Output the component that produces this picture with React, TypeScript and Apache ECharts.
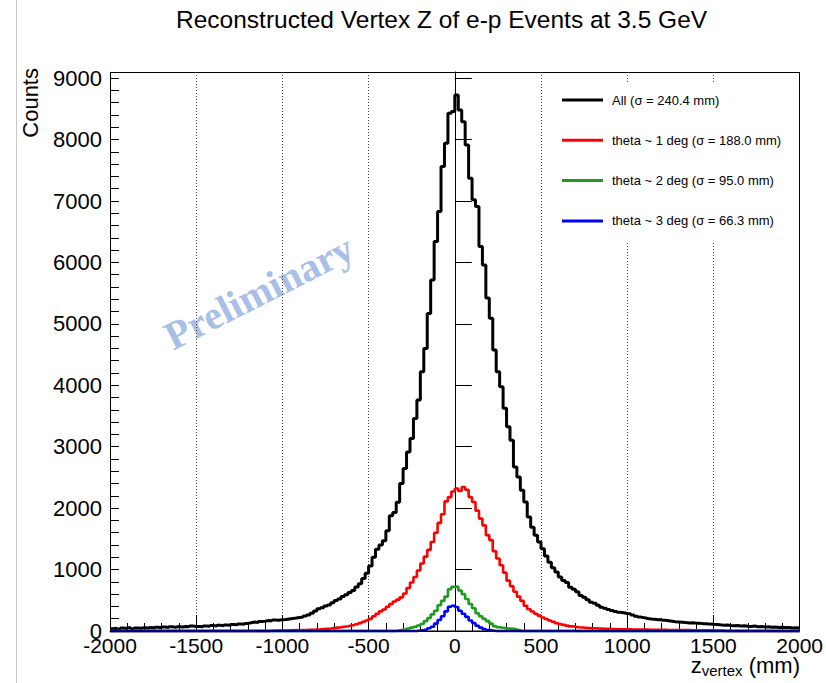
import React, { useEffect, useRef } from "react";
import * as echarts from "echarts";

// Histogram binning (mm)
const binWidth = 20;
const xMin = -2000;
const xMax = 2000;

// All events, 200 bins from -2000 to 2000 mm
const allCounts = [
  38, 45, 32, 48, 40, 52, 36, 50, 44, 55,
  48, 58, 50, 62, 54, 66, 58, 70, 62, 72,
  66, 74, 68, 80, 72, 75, 70, 82, 76, 88,
  80, 92, 86, 98, 94, 106, 100, 114, 110, 124,
  135, 146, 140, 155, 160, 170, 166, 180, 176, 185,
  188, 196, 204, 210, 220, 228, 245, 262, 290, 325,
  362, 380, 405, 425, 460, 497, 520, 560, 590, 625,
  660, 715, 770, 855, 942, 1060, 1200, 1330, 1400, 1470,
  1630, 1875, 1930, 2095, 2400, 2645, 2915, 3135, 3460, 3760,
  4220, 4600, 5170, 5715, 6340, 6830, 7560, 7940, 8430, 8455,
  8726, 8480, 8290, 7910, 7370, 7020, 6910, 6260, 5960, 5420,
  5090, 4575, 4220, 3975, 3625, 3325, 3105, 2670, 2505, 2290,
  2100, 1855, 1690, 1560, 1450, 1340, 1220, 1120, 1030, 960,
  880, 823, 790, 714, 680, 640, 578, 550, 510, 469,
  450, 420, 388, 372, 350, 334, 318, 305, 296, 285,
  280, 262, 240, 226, 215, 205, 196, 192, 182, 188,
  175, 168, 160, 152, 148, 143, 138, 132, 136, 128,
  127, 120, 118, 112, 108, 106, 100, 95, 98, 90,
  85, 88, 80, 84, 76, 73, 80, 70, 74, 66,
  68, 62, 65, 58, 62, 55, 58, 50, 54, 48,
];

// theta ~ 1 deg: non-empty bins start at -1080 mm (other bins are empty)
const theta1Start = -1080;
const theta1Counts = [
  5, 8, 6, 10, 8, 12, 10, 14, 12, 16,
  15, 18, 20, 24, 26, 30, 35, 40, 48, 55,
  62, 70, 78, 88, 98, 110, 128, 150, 172, 198,
  240, 280, 320, 350, 395, 440, 480, 510, 548, 610,
  700, 790, 880, 985, 1100, 1210, 1320, 1450, 1600, 1760,
  1900, 2110, 2180, 2270, 2320, 2280, 2345, 2300, 2180, 2100,
  1960, 1830, 1720, 1560, 1480, 1300, 1180, 1070, 950, 820,
  730, 640, 560, 490, 410, 355, 318, 280, 250, 220,
  195, 170, 150, 128, 112, 100, 88, 76, 68, 62,
  58, 54, 50, 46, 44, 41, 38, 36, 34, 32,
  30, 29, 28, 27, 26, 25, 24, 24, 23, 22,
  21, 20, 20, 19, 18, 17, 17, 16, 15, 15,
  14, 14, 13, 12, 12, 11, 10, 10, 9, 8, 7, 6,
];

// theta ~ 2 deg: non-empty bins start at -340 mm
const theta2Start = -340;
const theta2Counts = [
  10, 18, 28, 40, 55, 70, 90, 115, 160, 210,
  270, 330, 420, 490, 560, 680, 720, 725, 660, 600,
  520, 440, 370, 290, 240, 200, 160, 120, 80, 60,
  52, 45, 40, 35, 28, 15,
];

// theta ~ 3 deg: non-empty bins start at -220 mm
const theta3Start = -220;
const theta3Counts = [
  8, 15, 25, 45, 70, 120, 180, 240, 320, 395,
  410, 390, 330, 280, 230, 170, 130, 85, 55, 30,
  15, 8,
];

const seriesNames = [
  "All (σ = 240.4 mm)",
  "theta ~ 1 deg (σ = 188.0 mm)",
  "theta ~ 2 deg (σ = 95.0 mm)",
  "theta ~ 3 deg (σ = 66.3 mm)",
];
const seriesColors = ["#000000", "#ff0000", "#1e9a1e", "#0000ff"];
const seriesWidths = [3, 2.6, 2.6, 2.6];

const titleText = "Reconstructed Vertex Z of e-p Events at 3.5 GeV";
const yAxisTitle = "Counts";
const watermarkText = "Preliminary";

const FONT = '"Liberation Sans", Arial, Helvetica, sans-serif';

function toSteps(start: number, counts: number[]) {
  const nBins = Math.round((xMax - xMin) / binWidth);
  const pts: number[][] = [];
  for (let i = 0; i < nBins; i++) {
    const edge = xMin + i * binWidth;
    const k = Math.round((edge - start) / binWidth);
    const v = k >= 0 && k < counts.length ? counts[k] : 0;
    pts.push([edge, v]);
  }
  pts.push([xMax, pts[pts.length - 1][1]]);
  return pts;
}

const plainNumber = (v: number) => String(Math.round(v));

export default function App() {
  const ref = useRef<HTMLDivElement>(null);

  useEffect(() => {
    if (!ref.current) return;
    const chart = echarts.init(ref.current, undefined, { renderer: "svg" });
    const data = [
      toSteps(xMin, allCounts),
      toSteps(theta1Start, theta1Counts),
      toSteps(theta2Start, theta2Counts),
      toSteps(theta3Start, theta3Counts),
    ];
    const gridLeft = 110;
    const gridRight = 26;
    const gridTop = 72;
    const gridBottom = 52;

    const option: any = {
      animation: false,
      backgroundColor: "#ffffff",
      textStyle: { fontFamily: FONT },
      title: {
        text: titleText,
        left: 176,
        top: 7,
        padding: 0,
        textStyle: { fontSize: 24.5, fontWeight: "normal", color: "#000", fontFamily: FONT },
      },
      legend: {
        orient: "vertical",
        left: 556,
        top: 84,
        padding: [9, 10, 14, 6],
        backgroundColor: "#ffffff",
        itemWidth: 41,
        itemHeight: 3,
        itemGap: 26.3,
        icon: "rect",
        data: seriesNames,
        textStyle: { fontSize: 13, lineHeight: 14, color: "#000", fontFamily: FONT, padding: [0, 0, 0, 4] },
      },
      grid: { left: gridLeft, right: gridRight, top: gridTop, bottom: gridBottom },
      xAxis: {
        type: "value",
        min: xMin,
        max: xMax,
        interval: 500,
        axisLine: { show: true, onZero: false, lineStyle: { color: "#000", width: 1 } },
        axisTick: { show: true, inside: true, length: 16, lineStyle: { color: "#000", width: 1 } },
        minorTick: { show: true, splitNumber: 5, length: 8, lineStyle: { color: "#000", width: 1 } },
        axisLabel: { color: "#000", fontSize: 21, margin: 4, fontFamily: FONT, formatter: plainNumber },
        splitLine: { show: true, lineStyle: { color: "#444", width: 1, type: [1, 2] } },
      },
      yAxis: [
        {
          type: "value",
          min: 0,
          max: 9100,
          interval: 1000,
          axisLine: { show: true, lineStyle: { color: "#000", width: 1 } },
          axisTick: { show: true, inside: true, length: 17, lineStyle: { color: "#000", width: 1 } },
          axisLabel: { color: "#000", fontSize: 22, margin: 8, showMaxLabel: false, fontFamily: FONT, formatter: plainNumber },
          splitLine: { show: false },
        },
        {
          type: "value",
          min: 0,
          max: 9100,
          interval: 200,
          position: "left",
          axisLine: { show: false },
          axisTick: { show: true, inside: true, length: 9, lineStyle: { color: "#000", width: 1 } },
          axisLabel: { show: false },
          splitLine: { show: false },
        },
      ],
      series: seriesNames.map((name, i) => ({
        name,
        type: "line",
        step: "end",
        symbol: "none",
        clip: false,
        data: data[i],
        z: 2 + i,
        lineStyle: { color: seriesColors[i], width: seriesWidths[i] },
        itemStyle: { color: seriesColors[i] },
        emphasis: { disabled: true },
      })),
      graphic: [
        {
          type: "line",
          z: 0,
          shape: { x1: 16.5, y1: 0, x2: 16.5, y2: 683 },
          style: { stroke: "#c8c8c8", lineWidth: 1 },
        },
        {
          type: "rect",
          z: 10,
          shape: { x: gridLeft + 0.5, y: gridTop + 0.5, width: 826 - gridLeft - gridRight - 1, height: 683 - gridTop - gridBottom - 0.5 },
          style: { stroke: "#000", fill: "none", lineWidth: 1 },
          silent: true,
        },
        {
          type: "text",
          z: -10,
          x: 259,
          y: 292,
          rotation: 0.47,
          silent: true,
          style: {
            text: watermarkText,
            fill: "#aabfe7",
            fontSize: 40,
            fontWeight: "bold",
            fontFamily: '"Liberation Serif", "DejaVu Serif", serif',
            align: "center",
            verticalAlign: "middle",
          },
        },
        {
          type: "text",
          x: 30,
          y: 68,
          rotation: Math.PI / 2,
          silent: true,
          style: {
            text: yAxisTitle,
            fill: "#000",
            fontSize: 22,
            fontFamily: FONT,
            align: "right",
            verticalAlign: "middle",
          },
        },
        {
          type: "text",
          x: 800,
          y: 660,
          silent: true,
          style: {
            text: "{a|z}{b|vertex}{a| (mm)}",
            fill: "#000",
            align: "right",
            verticalAlign: "top",
            rich: {
              a: { fontSize: 22, lineHeight: 20, padding: [0, 0, 10, 0], fontFamily: FONT, fill: "#000" },
              b: { fontSize: 15, lineHeight: 15, fontFamily: FONT, fill: "#000" },
            },
          },
        },
      ],
    };
    chart.setOption(option);
    return () => chart.dispose();
  }, []);

  return (
    <div
      ref={ref}
      style={{ position: "absolute", left: 0, top: 0, width: 826, height: 683 }}
    />
  );
}
